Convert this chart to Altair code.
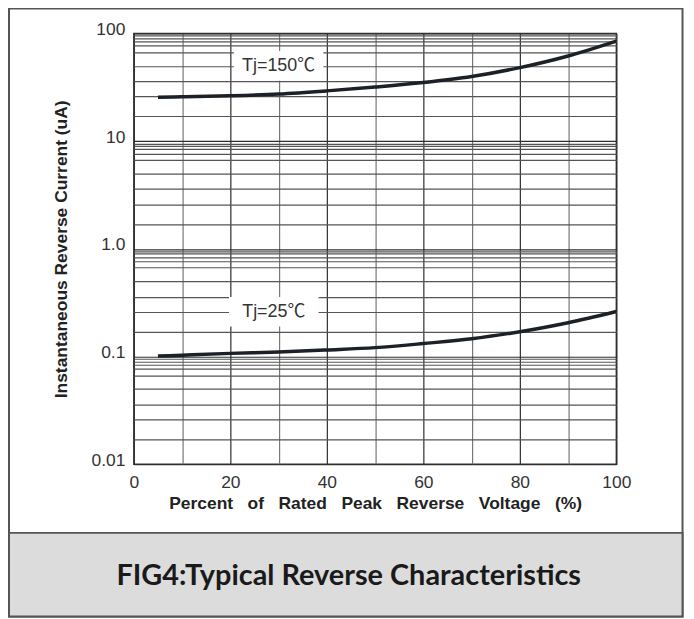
import altair as alt
import pandas as pd

# ---- data ----
x_pct = [5, 10, 20, 30, 40, 50, 60, 70, 80, 90, 100]
i_tj150 = [25.6, 25.8, 26.4, 27.4, 29.3, 31.8, 35.0, 39.8, 48.2, 61.8, 85.0]
i_tj25 = [0.101, 0.103, 0.107, 0.110, 0.115, 0.121, 0.132, 0.146, 0.170, 0.206, 0.262]
series_names = ["Tj=150℃", "Tj=25℃"]

label_text = ["Tj=150℃", "Tj=25℃"]
label_x = [30, 29]
label_y = [50, 0.26]

x_grid = [0, 10, 20, 30, 40, 50, 60, 70, 80, 90, 100]
x_ticks = [0, 20, 40, 60, 80, 100]
y_ticks = [0.01, 0.1, 1, 10, 100]
y_tick_labels = ["0.01", "0.1", "1.0", "10", "100"]
decade_tops = [0.1, 1, 10, 100]
minor_mult = [0.95, 0.90, 0.84, 0.77, 0.67, 0.50, 0.36, 0.26, 0.17]

fig_title = "FIG4:Typical Reverse Characteristics"
x_title = "Percent\u00a0\u00a0 of\u00a0\u00a0 Rated\u00a0\u00a0 Peak\u00a0\u00a0 Reverse\u00a0\u00a0 Voltage\u00a0\u00a0 (%)"
y_title = "Instantaneous Reverse Current (uA)"

# ---- tables ----
curve_df = pd.DataFrame({
    "pct": x_pct + x_pct,
    "current": i_tj150 + i_tj25,
    "series": [series_names[0]] * len(x_pct) + [series_names[1]] * len(x_pct),
})
label_df = pd.DataFrame({"pct": label_x, "current": label_y, "text": label_text})

y_grid = [0.01] + [d * m for d in decade_tops for m in [1] + minor_mult]

y_label_expr = " : ".join(
    f"datum.value == {v} ? '{t}'" for v, t in zip(y_ticks, y_tick_labels)
) + " : ''"
x_label_expr = " || ".join(f"datum.value == {v}" for v in x_ticks)
x_label_expr = f"({x_label_expr}) ? datum.label : ''"
y_dark_test = " || ".join(f"datum.value == {v}" for v in y_ticks)

FONT = "Liberation Sans"
W, H = 485, 433

x_enc = alt.X(
    "pct:Q",
    scale=alt.Scale(domain=[0, 100], nice=False, zero=False),
    axis=alt.Axis(
        values=x_grid, labelExpr=x_label_expr, ticks=False, domain=False,
        grid=True, gridWidth=1.2,
        gridColor={"condition": {"test": "datum.value % 20 === 0", "value": "#2e2e2e"}, "value": "#777777"},
        labelFlush=False, labelOverlap=False, labelPadding=9,
        labelFont=FONT, labelFontSize=17.5, labelColor="#333333",
        title=x_title, titleFont=FONT, titleFontSize=17.5, titleFontWeight="bold",
        titleColor="#222222", titleX=242.5, titleY=40, titleAlign="center",
        titleBaseline="middle",
    ),
)
y_enc = alt.Y(
    "current:Q",
    scale=alt.Scale(type="log", domain=[0.01, 100], nice=False),
    axis=alt.Axis(
        values=y_grid, labelExpr=y_label_expr, ticks=False, domain=False,
        grid=True, gridWidth=1.2,
        gridColor={"condition": {"test": y_dark_test, "value": "#2e2e2e"}, "value": "#555555"},
        labelOverlap=False, labelPadding=9, labelOffset=-4,
        labelFont=FONT, labelFontSize=17.5, labelColor="#333333",
        title=y_title, titleFont=FONT, titleFontSize=17.5, titleFontWeight="bold",
        titleColor="#222222", titleX=-72.5, titleY=216.5, titleAngle=270,
        titleAlign="center", titleBaseline="middle",
    ),
)

one = pd.DataFrame({"k": [0]})

frame = alt.Chart(one).mark_rect(fillOpacity=0, stroke="#555555", strokeWidth=2).encode(
    x=alt.value(-125.5), x2=alt.value(551.5), y=alt.value(-25), y2=alt.value(586)
)
caption_box = alt.Chart(one).mark_rect(fill="#dcdcdc", stroke="#555555", strokeWidth=2).encode(
    x=alt.value(-125.5), x2=alt.value(551.5), y=alt.value(502), y2=alt.value(586)
)
caption = alt.Chart(one).mark_text(
    text=fig_title, font="Lato", fontWeight="bold", fontSize=29, color="#1a1a1a",
    align="center", baseline="middle",
).encode(x=alt.value(216), y=alt.value(545))

lines = alt.Chart(curve_df).mark_line(
    interpolate="monotone", strokeWidth=3.5, color="#1c2027", clip=True
).encode(x=x_enc, y=y_enc, detail="series:N")

label_boxes = alt.Chart(label_df).mark_point(
    shape="M-1,-0.33L1,-0.33L1,0.33L-1,0.33Z", size=8100, filled=True,
    fill="white", opacity=1, strokeWidth=0,
).encode(x="pct:Q", y="current:Q")

labels = alt.Chart(label_df).mark_text(
    font=f"{FONT}, Noto Sans CJK SC", fontSize=18, color="#333333",
    align="center", baseline="middle",
).encode(x="pct:Q", y="current:Q", text="text:N")

chart = alt.layer(frame, caption_box, caption, lines, label_boxes, labels).properties(
    width=W, height=H,
    padding={"left": 126.5, "top": 24, "right": 70, "bottom": 155},
    autosize=alt.AutoSizeParams(type="none"),
    background="white",
).configure_view(stroke="#333333", strokeWidth=1.5)

chart.save("out.html", embed_options={"renderer": "svg", "actions": False})
